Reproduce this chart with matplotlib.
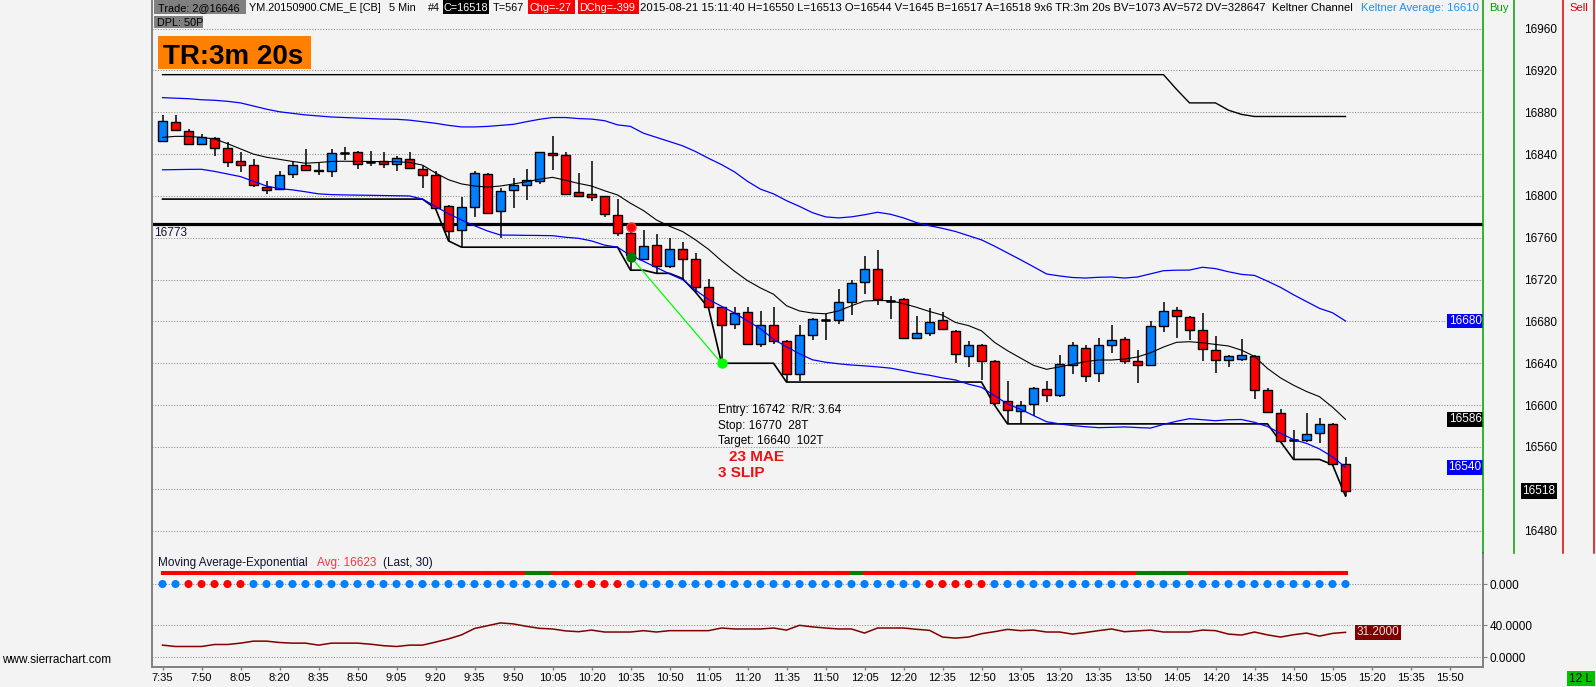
# -*- coding: utf-8 -*-
import numpy as np
import matplotlib
matplotlib.use("Agg")
import matplotlib.pyplot as plt
from matplotlib.patches import Rectangle
from matplotlib.collections import LineCollection

plt.rcParams['font.family'] = ['Liberation Sans', 'DejaVu Sans']

# ---- YM 5 min bars, 7:35 .. 15:10 ----
opens = [16853, 16871, 16862, 16850, 16855, 16846, 16833, 16830, 16809, 16807,
         16821, 16830, 16825, 16824, 16841, 16842, 16832, 16833, 16831, 16835,
         16826, 16820, 16790, 16767, 16789, 16821, 16786, 16806, 16810, 16814,
         16841, 16839, 16804, 16802, 16800, 16782, 16765, 16740, 16753, 16733,
         16749, 16740, 16713, 16694, 16678, 16689, 16658, 16677, 16661, 16630,
         16667, 16681, 16681, 16699, 16718, 16730, 16700, 16701, 16664, 16669,
         16681, 16671, 16647, 16657, 16642, 16604, 16594, 16601, 16615, 16610,
         16638, 16655, 16631, 16657, 16663, 16642, 16638, 16676, 16691, 16684,
         16672, 16653, 16643, 16644, 16647, 16614, 16592, 16567, 16567, 16573,
         16582, 16544]
highs = [16877, 16877, 16864, 16859, 16856, 16852, 16842, 16835, 16814, 16824,
         16833, 16845, 16832, 16845, 16847, 16843, 16843, 16842, 16838, 16842,
         16829, 16824, 16791, 16799, 16824, 16822, 16808, 16817, 16826, 16842,
         16857, 16842, 16822, 16833, 16800, 16797, 16767, 16767, 16764, 16760,
         16756, 16745, 16721, 16694, 16694, 16694, 16690, 16694, 16662, 16677,
         16683, 16687, 16711, 16720, 16743, 16748, 16704, 16702, 16685, 16693,
         16689, 16672, 16661, 16658, 16643, 16623, 16604, 16617, 16623, 16648,
         16660, 16657, 16664, 16677, 16665, 16653, 16680, 16699, 16694, 16685,
         16688, 16666, 16648, 16663, 16648, 16616, 16596, 16576, 16592, 16588,
         16583, 16550]
lows = [16852, 16862, 16850, 16849, 16838, 16828, 16823, 16809, 16802, 16806,
        16817, 16824, 16820, 16818, 16834, 16826, 16829, 16827, 16824, 16827,
        16808, 16788, 16757, 16751, 16780, 16783, 16760, 16788, 16796, 16811,
        16825, 16801, 16799, 16795, 16780, 16762, 16729, 16739, 16726, 16731,
        16721, 16708, 16693, 16640, 16673, 16657, 16656, 16658, 16622, 16623,
        16662, 16662, 16678, 16686, 16706, 16696, 16682, 16664, 16663, 16666,
        16672, 16640, 16636, 16624, 16600, 16582, 16582, 16590, 16603, 16608,
        16630, 16622, 16622, 16650, 16639, 16621, 16638, 16670, 16664, 16662,
        16642, 16631, 16636, 16642, 16606, 16592, 16565, 16548, 16565, 16564,
        16543, 16513]
closes = [16872, 16863, 16850, 16856, 16846, 16832, 16830, 16810, 16806, 16820,
          16830, 16825, 16824, 16841, 16841, 16831, 16832, 16831, 16836, 16827,
          16820, 16788, 16766, 16789, 16822, 16784, 16805, 16810, 16815, 16842,
          16839, 16802, 16800, 16799, 16783, 16765, 16744, 16752, 16733, 16749,
          16740, 16713, 16694, 16677, 16688, 16658, 16677, 16661, 16630, 16667,
          16682, 16681, 16699, 16717, 16730, 16701, 16700, 16664, 16669, 16679,
          16673, 16649, 16657, 16642, 16602, 16595, 16600, 16616, 16610, 16639,
          16657, 16628, 16657, 16662, 16642, 16638, 16676, 16690, 16685, 16672,
          16654, 16643, 16647, 16648, 16614, 16593, 16566, 16567, 16572, 16582,
          16544, 16518]

kelt_upper = [16894, 16893.5, 16893, 16892, 16891.5, 16890.5, 16889, 16886, 16883, 16880.5,
              16879, 16877.5, 16876.5, 16875.5, 16875, 16874.5, 16874, 16873.5, 16873.3, 16872.5,
              16871, 16869.5, 16867.5, 16866, 16866, 16866.5, 16867.5, 16868.5, 16871, 16873.3,
              16875, 16875, 16874, 16873.5, 16872, 16868, 16866.5, 16860, 16856, 16852,
              16848, 16842.5, 16836, 16830, 16823, 16814, 16806.5, 16802, 16795.5, 16790,
              16784, 16780, 16779, 16780, 16782, 16784.4, 16782.5, 16779, 16774.5, 16771.5,
              16769, 16766, 16762, 16758, 16752, 16745.5, 16739, 16732.3, 16725.4, 16723.5,
              16722, 16721.5, 16722.2, 16722.5, 16721.5, 16722.5, 16725.5, 16728.5, 16729, 16729.1,
              16731.8, 16730.5, 16727.5, 16725, 16724, 16718.5, 16712.6, 16705.5, 16699, 16692.5,
              16688.3, 16680.4]
kelt_lower = [16825, 16825.2, 16825.4, 16825.5, 16823.5, 16821, 16818.5, 16814, 16809.5, 16807,
              16805.8, 16804, 16802, 16801.3, 16801, 16800.8, 16800.6, 16800.4, 16800.2, 16800,
              16797, 16790, 16783, 16777, 16771.5, 16766.5, 16762.6, 16762.5, 16762.3, 16762.2,
              16762, 16760.5, 16759.5, 16757, 16753, 16751, 16743, 16737.5, 16731.5, 16725.5,
              16720, 16710, 16701, 16694.5, 16688, 16680.5, 16673, 16663, 16655.8, 16649,
              16643.3, 16641, 16639.5, 16638.3, 16637.5, 16636.5, 16635.3, 16633, 16630.5, 16628.5,
              16626, 16624, 16620, 16617, 16609, 16601, 16596, 16590, 16584.1, 16582,
              16580.4, 16579.3, 16578.4, 16578.7, 16579.1, 16578.5, 16578, 16581.5, 16584.5, 16587,
              16586, 16585, 16586, 16586.2, 16583.5, 16579.5, 16573, 16567, 16563.4, 16558,
              16550.5, 16540.4]
ema_line = [16856, 16857, 16857, 16856, 16854.5, 16850, 16845, 16840, 16837, 16835,
            16833, 16831.3, 16832, 16833, 16833.2, 16833, 16833, 16832.8, 16832.8, 16832,
            16829.5, 16822, 16815.5, 16811.5, 16809.5, 16808.5, 16809.5, 16811.5, 16813.6, 16816,
            16817.8, 16815, 16812, 16809.5, 16805, 16801, 16793, 16786, 16777, 16771,
            16766, 16758, 16749, 16738, 16728, 16719, 16712, 16706, 16695, 16690,
            16688, 16687.3, 16690, 16695, 16699.5, 16700, 16699.8, 16697, 16693.5, 16689.5,
            16686, 16679, 16676, 16671, 16660, 16652, 16645, 16638, 16634.2, 16636.5,
            16639, 16641.5, 16643.1, 16643.1, 16644, 16646, 16650, 16655.5, 16660, 16660.6,
            16659.5, 16658, 16656.5, 16652.5, 16646.5, 16635, 16626, 16619, 16613, 16608,
            16598, 16586.4]
low_step = ([16797] * 21 + [16788, 16757] + [16751] * 13 + [16729] * 2 + [16726] * 2
            + [16721, 16708, 16693] + [16640] * 5 + [16622] * 16 + [16600] + [16582] * 21
            + [16565] + [16548] * 3 + [16543, 16513])
high_step = [16916] * 78 + [16902, 16889, 16889, 16889, 16882, 16878] + [16876] * 8

osc = [15.2, 13.5, 13.5, 13.5, 16, 16, 17.7, 20.2, 20.2, 18.5,
       17.7, 17.7, 15.2, 17.7, 17.7, 17.7, 16.4, 14.5, 13.5, 15.2,
       15.2, 19, 23, 28, 36, 39.5, 43, 41.7, 38.7, 36.2,
       35.4, 33, 32, 34, 31.6, 31.6, 31.6, 33.3, 31.6, 33.3,
       33.3, 33.3, 33.3, 36.6, 35.4, 35.4, 35.4, 36.6, 34, 40,
       38, 36.6, 35.4, 35.4, 30.3, 36.6, 36.6, 36.6, 35, 33.7,
       25.3, 24, 25.3, 29.5, 32, 34.9, 33.3, 34, 31.6, 31.6,
       29, 31, 33.3, 35.4, 32, 33, 34, 31.6, 31.6, 31.6,
       34, 33.3, 29, 27.8, 31.6, 28, 25.3, 28.2, 30.3, 26.5,
       29.9, 31.2]
dot_state = ['b'] * 2 + ['r'] * 5 + ['b'] * 25 + ['r'] * 4 + ['b'] * 23 + ['r'] * 5 + ['b'] * 28
trend_state = ['g'] + ['r'] * 28 + ['g'] * 2 + ['r'] * 23 + ['g'] + ['r'] * 21 + ['g'] * 4 + ['r'] * 12

time_labels = ['7:35', '7:50', '8:05', '8:20', '8:35', '8:50', '9:05', '9:20', '9:35',
               '9:50', '10:05', '10:20', '10:35', '10:50', '11:05', '11:20', '11:35',
               '11:50', '12:05', '12:20', '12:35', '12:50', '13:05', '13:20', '13:35',
               '13:50', '14:05', '14:20', '14:35', '14:50', '15:05', '15:20', '15:35', '15:50']
grid_prices = list(range(16480, 16961, 40))

entry_bar, entry_price = 36, 16742
stop_price = 16770
target_bar, target_price = 43, 16640
ref_line = 16773
ema30_last = 16623

# ---- layout (pixels of the 1596x687 screenshot) ----
W, H = 1596, 687
BG = '#f3f3f3'
GRID = '#8c8c8c'
X0, X1 = 152.3, 1483.3
BX0, BDX = 162.5, 13.0
Y16880, PXPT = 112.3, 1.0456
PANEL_Y, BOTTOM_Y = 553.3, 667.3
DOT_ROW, TREND_ROW = 91.6, 105.6


def rect(x0, y0, x1, y1):
    return [x0 / W, 1 - y1 / H, (x1 - x0) / W, (y1 - y0) / H]


n = len(closes)
x = np.arange(n)
o, h, l, c = map(np.array, (opens, highs, lows, closes))
xlim = ((X0 - BX0) / BDX, (X1 - BX0) / BDX)

fig = plt.figure(figsize=(W / 100, H / 100), dpi=100, facecolor=BG)

# ---- price panel ----
ax = fig.add_axes(rect(X0, 0, X1, PANEL_Y))
ax.set_facecolor('none')
ax.set_xlim(*xlim)
ax.set_ylim(16880 - (PANEL_Y - Y16880) / PXPT, 16880 + Y16880 / PXPT)
for s in ax.spines.values():
    s.set_visible(False)
ax.set_xticks([])
ax.yaxis.tick_right()
ax.set_yticks([p for p in grid_prices if abs(p - closes[-1]) > 10])
ax.tick_params(axis='y', length=0, pad=29.5, labelsize=8.5)

for p in grid_prices:
    ax.axhline(p, color=GRID, lw=0.75, ls=(0, (1, 1.6)), zorder=1)
ax.axhline(ref_line, color='black', lw=2.3, zorder=2)
ax.annotate(str(ref_line), xy=(0, ref_line), xycoords=('axes fraction', 'data'),
            xytext=(1.5, -2), textcoords='offset points', ha='left', va='top',
            fontsize=8.5, color='#10102a')

ax.plot(x, high_step, color='black', lw=1.0, zorder=2)
ax.plot(x, low_step, color='black', lw=1.2, zorder=2)
ax.plot(x, kelt_upper, color='#0000ff', lw=0.9, zorder=2)
ax.plot(x, kelt_lower, color='#0000ff', lw=0.9, zorder=5)
ax.plot(x, ema_line, color='black', lw=0.8, zorder=5)

body_col = np.where(c > o, '#0080ff', np.where(c < o, '#ff0000', 'black'))
ax.vlines(x, l, h, color='black', lw=1.1, zorder=3)
ax.bar(x, c - o, bottom=o, width=0.64, color=body_col, edgecolor='black',
       linewidth=1.0, zorder=4)
doji = c == o
ax.hlines(c[doji], x[doji] - 0.32, x[doji] + 0.32, color='black', lw=1.8, zorder=4)

# trade: entry, stop, target
ax.plot([entry_bar, target_bar], [entry_price, target_price], color='#00ff00', lw=0.9, zorder=6)
ax.plot(entry_bar, stop_price, marker='o', ms=6.5, color='#ff0000', mec='#ff3030', zorder=7)
ax.plot(entry_bar, entry_price, marker='o', ms=6.5, color='#007a00', zorder=7)
ax.plot(target_bar, target_price, marker='o', ms=6.5, color='#00ff00', zorder=7)

# value tags on the right edge
for val, fc in ((kelt_upper[-1], '#0000ff'), (ema_line[-1], 'black'), (kelt_lower[-1], '#0000ff')):
    ax.annotate(f'{val:.0f}', xy=(1, val), xycoords=('axes fraction', 'data'),
                xytext=(-1.2, 0), textcoords='offset points', ha='right', va='center',
                fontsize=8.5, color='white', annotation_clip=False,
                bbox=dict(boxstyle='square,pad=0.12', fc=fc, ec='none'))
ax.annotate(str(closes[-1]), xy=(1538.8, closes[-1]), xycoords=('figure pixels', 'data'),
            ha='center', va='center', fontsize=8.5, color='white', annotation_clip=False,
            bbox=dict(boxstyle='square,pad=0.15', fc='black', ec='none'))

# ---- lower panel: MA colour bar, dots, oscillator ----
ax2 = fig.add_axes(rect(X0, PANEL_Y, X1, BOTTOM_Y))
ax2.set_facecolor('none')
ax2.set_xlim(*xlim)
ax2.set_ylim(-12.5, 130)
for s in ax2.spines.values():
    s.set_visible(False)
for v in (0, 40, DOT_ROW):
    ax2.axhline(v, color=GRID, lw=0.75, ls=(0, (1, 1.6)), zorder=1)

segs = [[(i - 1, TREND_ROW), (i, TREND_ROW)] for i in range(1, n)]
seg_cols = ['#008000' if s == 'g' else '#ff0000' for s in trend_state[1:]]
ax2.add_collection(LineCollection(segs, colors=seg_cols, linewidths=2.9, capstyle='projecting'))
ax2.scatter(x, [DOT_ROW] * n, s=34, marker='o', zorder=3, linewidths=0,
            c=['#ff0000' if s == 'r' else '#0080ff' for s in dot_state])
ax2.plot(x, osc, color='#800000', lw=1.1, zorder=3)
ax2.annotate(f'{osc[-1]:.4f}', xy=(n - 1, osc[-1]), xytext=(11, 0), textcoords='offset pixels',
             ha='left', va='center', fontsize=8.5, color='#f0e0e0', annotation_clip=False,
             bbox=dict(boxstyle='square,pad=0.12', fc='#800000', ec='none'))

ax2.yaxis.tick_right()
ax2.set_yticks([0, 40, DOT_ROW])
ax2.set_yticklabels(['0.0000', '40.0000', '0.000'])
ax2.tick_params(axis='y', length=3, color='#808080', pad=1.5, labelsize=8.5)
ax2.set_xticks(np.arange(0, 3 * len(time_labels), 3))
ax2.set_xticklabels(time_labels)
ax2.tick_params(axis='x', length=2.5, color='#808080', width=1, pad=1.5, labelsize=8)

# ---- frame, header and text in screen pixels ----
ov = fig.add_axes([0, 0, 1, 1], zorder=10)
ov.set_xlim(0, W)
ov.set_ylim(H, 0)
ov.axis('off')
ov.patch.set_alpha(0)

ov.plot([X0, X0], [0, BOTTOM_Y], color='#808080', lw=1.4)
ov.plot([X0, X1], [BOTTOM_Y, BOTTOM_Y], color='#808080', lw=1.4)
ov.plot([X1, X1], [PANEL_Y, BOTTOM_Y], color='#808080', lw=1.4)
for xx in (1483.3, 1514.3):
    ov.plot([xx, xx], [0, PANEL_Y], color='#00a000', lw=1.1)
for xx in (1563.3, 1594.3):
    ov.plot([xx, xx], [0, PANEL_Y], color='#e00000', lw=1.1)

ov.add_patch(Rectangle((154, 0), 92, 14.3, fc='#808080', ec='none'))
ov.add_patch(Rectangle((154, 15.5), 49, 12.8, fc='#808080', ec='none'))
ov.add_patch(Rectangle((442.7, 0), 46.6, 14.3, fc='black', ec='none'))
ov.add_patch(Rectangle((527.7, 0), 47.6, 14.3, fc='#ff0000', ec='none'))
ov.add_patch(Rectangle((578.3, 0), 60.7, 14.3, fc='#ff0000', ec='none'))
header = [(158, 'Trade: 2@16646', 'black'), (249.3, 'YM.20150900.CME_E [CB]', 'black'),
          (389, '5 Min', 'black'), (428, '#4', 'black'), (444, 'C=16518', 'white'),
          (493, 'T=567', 'black'), (529, 'Chg=-27', 'white'), (579.5, 'DChg=-399', 'white')]
for hx, txt, col in header:
    ov.text(hx, 11, txt, fontsize=7.8, color=col, va='baseline', ha='left')
header2 = [(640.5, '2015-08-21 15:11:40 H=16550 L=16513 O=16544 V=1645 B=16517 A=16518 9x6 '
                   'TR:3m 20s BV=1073 AV=572 DV=328647', 'black'),
           (1272, 'Keltner Channel', 'black'), (1361, 'Keltner Average: 16610', '#1e90ff'),
           (1489, 'Buy', '#00a000'), (1569, 'Sell', '#e00000')]
for hx, txt, col in header2:
    ov.text(hx, 11, txt, fontsize=8.1, color=col, va='baseline', ha='left')
ov.text(157, 26.5, 'DPL: 50P', fontsize=7.8, color='black', va='baseline')

ov.add_patch(Rectangle((158, 35.6), 153, 33.6, fc='#ff8000', ec='none'))
ov.text(163, 63.5, 'TR:3m 20s', fontsize=20, fontweight='bold', color='black', va='baseline')

rr = (entry_price - target_price) / (stop_price - entry_price)
ov.text(717.7, 410, f'Entry: {entry_price}  R/R: {rr:.2f}', fontsize=8.5, va='center')
ov.text(717.7, 425.5, f'Stop: {stop_price}  {stop_price - entry_price}T', fontsize=8.5, va='center')
ov.text(717.7, 440.8, f'Target: {target_price}  {entry_price - target_price}T', fontsize=8.5, va='center')
ov.text(729, 457, '23 MAE', fontsize=11, fontweight='bold', color='#ee1111', va='center')
ov.text(717.7, 473.4, '3 SLIP', fontsize=11, fontweight='bold', color='#ee1111', va='center')

ov.text(158.3, 566, 'Moving Average-Exponential', fontsize=8.5, va='baseline', color='#101030')
ov.text(317.3, 566, f'Avg: {ema30_last}', fontsize=8.5, va='baseline', color='#ff3040')
ov.text(383.3, 566, '(Last, 30)', fontsize=8.5, va='baseline', color='#101030')

ov.text(2, 660, 'www.sierrachart.com', fontsize=8.5, va='center')
ov.add_patch(Rectangle((1566.7, 671), 28.3, 15, fc='#00c000', ec='none'))
ov.text(1580.8, 678.5, '12 L', fontsize=8.5, ha='center', va='center')

fig.savefig('out.png', dpi=100, facecolor=BG)
